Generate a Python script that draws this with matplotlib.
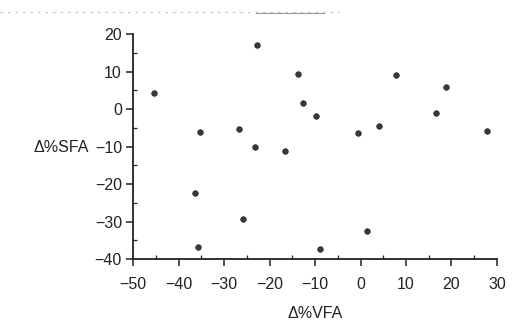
import matplotlib
matplotlib.use('Agg')
import matplotlib.pyplot as plt
from matplotlib.ticker import MultipleLocator

# ── Change in VFA vs change in SFA (percent) ─────────────────────────────
d_vfa = [-45.3, -35.4, -26.7, -22.8, -23.2, -16.6, -13.7, -12.6, -9.7, -0.5,
         4.0, 7.7, 18.9, 16.7, 27.8, -36.5, -35.8, -25.9, -8.9, 1.4]
d_sfa = [4.2, -6.0, -5.2, 17.1, -10.0, -11.1, 9.3, 1.5, -1.9, -6.3,
         -4.4, 9.1, 5.9, -1.1, -5.9, -22.3, -36.9, -29.2, -37.3, -32.4]

x_ticks = [-50, -40, -30, -20, -10, 0, 10, 20, 30]
y_ticks = [-40, -30, -20, -10, 0, 10, 20]

plt.rcParams['font.family'] = ['Liberation Sans', 'DejaVu Sans']

fig = plt.figure(figsize=(5.22, 3.30), dpi=100)
ax = fig.add_axes([0.255, 0.215, 0.697, 0.682])

ax.plot(d_vfa, d_sfa, linestyle='none', marker='o', markersize=4.0,
        color='#3a3a3a', markeredgecolor='#222222', markeredgewidth=0.5)

ax.set_xlim(-50, 30)
ax.set_ylim(-40, 20)
ax.set_xticks(x_ticks)
ax.set_yticks(y_ticks)
ax.xaxis.set_minor_locator(MultipleLocator(5))
ax.yaxis.set_minor_locator(MultipleLocator(5))

for side in ['top', 'right']:
    ax.spines[side].set_visible(False)
for side in ['left', 'bottom']:
    ax.spines[side].set_linewidth(1.3)
    ax.spines[side].set_color('#222222')

ax.tick_params(which='major', direction='out', length=5, width=1.1,
               labelsize=11.5, colors='#222222')
ax.tick_params(which='minor', direction='in', length=3, width=0.9,
               colors='#222222')
ax.tick_params(axis='x', which='major', pad=8)
ax.tick_params(axis='y', which='major', pad=3)

# axis titles sit horizontally, the y one level with the -10 tick
fig.text(0.118, (330 - 147) / 330, 'Δ%SFA', ha='center', va='center',
         fontsize=11.5, color='#222222')
fig.text(0.603, (330 - 313) / 330, 'Δ%VFA', ha='center', va='center',
         fontsize=11.5, color='#222222')

# faint scanner streak along the top edge
fig.add_artist(plt.Line2D([0.0, 0.65], [0.963, 0.963], color='#b5b5b5',
                          linewidth=0.6, linestyle=(0, (3, 6))))
fig.add_artist(plt.Line2D([0.49, 0.62], [0.962, 0.962], color='#9a9a9a',
                          linewidth=0.8))

fig.savefig('out.png', dpi=100)
